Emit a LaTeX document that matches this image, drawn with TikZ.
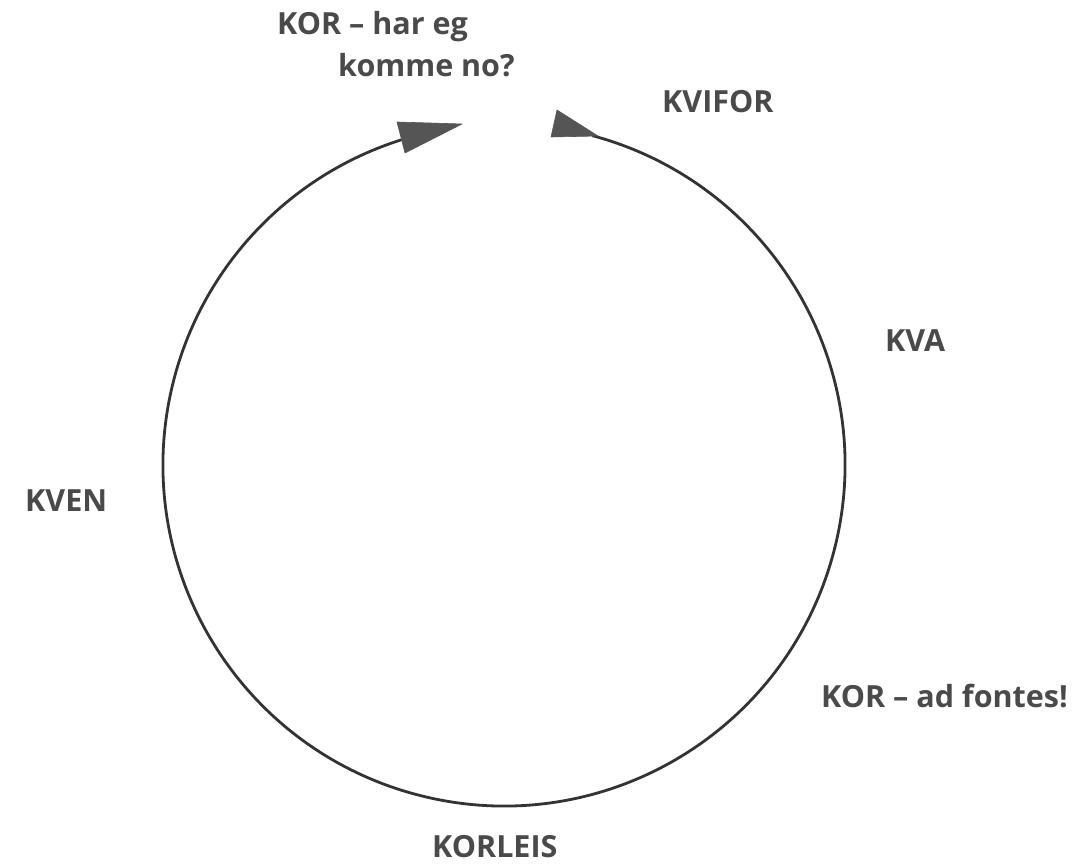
\documentclass[tikz,border=0pt]{standalone}
\usepackage{fontspec}
\setmainfont{Open Sans}
\begin{document}
\begin{tikzpicture}[x=1pt,y=1pt,
  lbl/.style={anchor=base west,inner sep=0pt,text=txtgray,font=\fontsize{30.5}{34}\selectfont\bfseries},
  ring/.style={draw=linegray,line width=2.8pt},
  head/.style={fill=headgray,draw=headgray,line width=0.6pt,line join=round}]
\definecolor{txtgray}{HTML}{4A4A4A}
\definecolor{linegray}{HTML}{333333}
\definecolor{headgray}{HTML}{555555}
\useasboundingbox[fill=white] (0,0) rectangle (1084,867);
\coordinate (c) at (504,402);
% arc
\draw[ring] (c) ++(75:341) arc[start angle=75,end angle=-252.5,radius=341];
% arrowheads
\coordinate (l1) at (397,745);
\coordinate (l2) at (462,743);
\coordinate (l3) at (405,714);
\fill[head] (l1) -- (l2) -- (l3) -- cycle;
\coordinate (r1) at (557,757);
\coordinate (r2) at (551,730);
\coordinate (r3) at (598,731);
\fill[head] (r1) -- (r2) -- (r3) -- cycle;
% labels
\node[lbl] (korhar) at (277,832) {KOR -- har eg};
\node[lbl] (komme) at (338,790) {komme no?};
\node[lbl] (kvifor) at (662,754) {KVIFOR};
\node[lbl] (kva) at (885,515) {KVA};
\node[lbl] (kven) at (25,355) {KVEN};
\node[lbl] (adf) at (821,159) {KOR -- ad fontes!};
\node[lbl] (korleis) at (432,9) {KORLEIS};
\end{tikzpicture}
\end{document}
